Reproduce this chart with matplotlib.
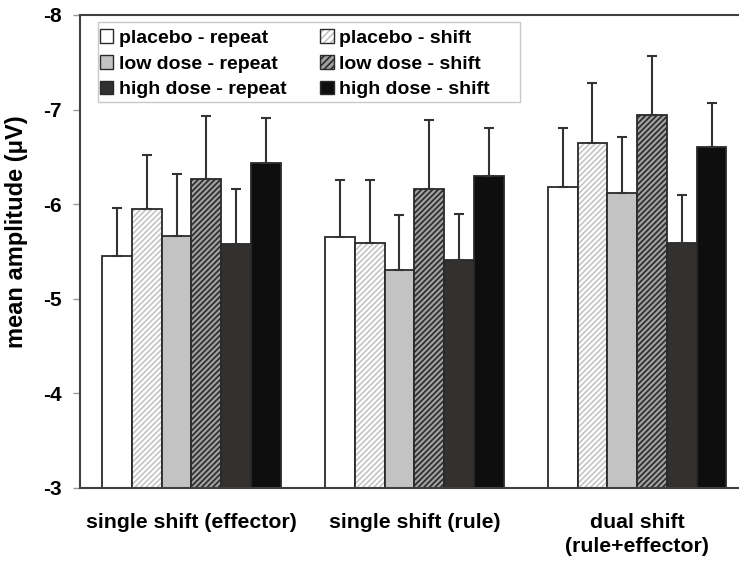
import numpy as np
import matplotlib
matplotlib.use("Agg")
import matplotlib.pyplot as plt
from matplotlib.patches import Patch, Rectangle
from matplotlib.legend_handler import HandlerTuple

plt.rcParams['font.family'] = ['Liberation Sans', 'DejaVu Sans']
plt.rcParams['font.weight'] = 'bold'
plt.rcParams['hatch.linewidth'] = 1.2

categories = ['single shift (effector)', 'single shift (rule)', 'dual shift\n(rule+effector)']

placebo_repeat = [-5.45, -5.65, -6.18]
placebo_shift = [-5.95, -5.59, -6.65]
low_repeat = [-5.66, -5.30, -6.12]
low_shift = [-6.27, -6.16, -6.94]
high_repeat = [-5.58, -5.41, -5.59]
high_shift = [-6.43, -6.30, -6.60]

placebo_repeat_err = [0.51, 0.60, 0.62]
placebo_shift_err = [0.57, 0.66, 0.63]
low_repeat_err = [0.66, 0.58, 0.59]
low_shift_err = [0.66, 0.73, 0.63]
high_repeat_err = [0.58, 0.48, 0.51]
high_shift_err = [0.48, 0.50, 0.47]

# label, values, errors, face colour, hatch colour (None = plain fill)
series = [
    ("placebo - repeat", placebo_repeat, placebo_repeat_err, "#ffffff", None),
    ("placebo - shift", placebo_shift, placebo_shift_err, "#ffffff", "#c4c4c4"),
    ("low dose - repeat", low_repeat, low_repeat_err, "#c4c3c4", None),
    ("low dose - shift", low_shift, low_shift_err, "#a0a0a0", "#2a2a2a"),
    ("high dose - repeat", high_repeat, high_repeat_err, "#323130", None),
    ("high dose - shift", high_shift, high_shift_err, "#0e0e0e", None),
]

edge = "#2a2a2a"
width = 0.1336
x = np.arange(len(categories))

fig = plt.figure(figsize=(7.39, 5.61), dpi=100)
ax = fig.add_axes([0.1083, 0.1307, 0.8917, 0.8426])

handles = {}
for i, (label, vals, errs, face, hatch_col) in enumerate(series):
    pos = x + (i - 2.5) * width
    vals = np.array(vals)
    if hatch_col:
        ax.bar(pos, vals, width, color=face, edgecolor=hatch_col, hatch='//////', linewidth=0)
        ax.bar(pos, vals, width, fill=False, edgecolor=edge, linewidth=1.3)
        h = (Patch(facecolor=face, edgecolor=hatch_col, hatch='/////', linewidth=0),
             Patch(fill=False, edgecolor=edge, linewidth=1.0))
    else:
        ax.bar(pos, vals, width, color=face, edgecolor=edge, linewidth=1.3)
        h = (Patch(facecolor=face, edgecolor=edge, linewidth=1.0),)
    # error bars only extend away from the baseline
    ax.errorbar(pos, vals, yerr=[errs, np.zeros(len(errs))], fmt='none',
                ecolor="#333333", elinewidth=1.5, capsize=3.8, capthick=1.5)
    handles[label] = h

ax.set_ylim(-3, -8)
ax.set_xlim(-0.5, 2.457)
ax.set_yticks([-3, -4, -5, -6, -7, -8])
ax.set_yticklabels(['-3', '-4', '-5', '-6', '-7', '-8'], fontsize=15, fontweight='bold')
ax.set_xticks(x)
ax.set_xticklabels(categories, fontsize=15.3, fontweight='bold', linespacing=1.35)
ax.tick_params(axis='x', length=0, pad=18)
ax.tick_params(axis='y', length=5, width=1.0, color="#999999", pad=8)
ax.set_ylabel("mean amplitude (μV)", fontsize=17, fontweight='bold')
ax.yaxis.set_label_coords(-0.079, 0.542)

for s in ['left', 'top', 'bottom']:
    ax.spines[s].set_color("#404040")
    ax.spines[s].set_linewidth(1.5)
ax.spines['right'].set_visible(False)

# legend box is wider than its entries, so the frame is drawn separately
ax.add_patch(Rectangle((0.0273, 0.816), 0.6404, 0.1692, transform=ax.transAxes,
                       facecolor='white', edgecolor='#c8c8c8', linewidth=1.0, zorder=4))

order = ["placebo - repeat", "low dose - repeat", "high dose - repeat",
         "placebo - shift", "low dose - shift", "high dose - shift"]
leg = ax.legend([handles[k] for k in order], order, ncol=2, loc='upper left',
                bbox_to_anchor=(0.030, 0.970), borderaxespad=0,
                handler_map={tuple: HandlerTuple(ndivide=1, pad=0)},
                prop={'size': 14, 'weight': 'bold'},
                handlelength=0.7, handleheight=0.7, handletextpad=0.3,
                columnspacing=1.7, labelspacing=0.42, borderpad=0,
                frameon=False)
leg.set_zorder(5)

fig.savefig("out.png", dpi=100)
